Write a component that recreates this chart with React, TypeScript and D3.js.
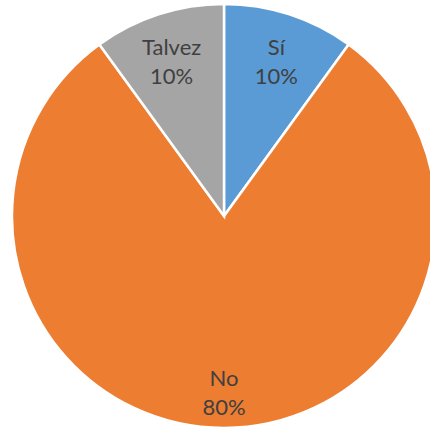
import React from "react";
import * as d3 from "d3";

const categories = ["Sí", "No", "Talvez"];
const values = [10, 80, 10];
const labels = ["10%", "80%", "10%"];
const colors = ["#5B9BD5", "#ED7D31", "#A5A5A5"];

export default function App() {
  const width = 430;
  const height = 429;
  const cx = 224;
  const cy = 216;
  const r = 212;
  const pie = d3.pie<number>().sort(null).value((d) => d);
  const arcs = pie(values);
  const arc = d3.arc<d3.PieArcDatum<number>>().innerRadius(0).outerRadius(r);
  const labelArc = d3
    .arc<d3.PieArcDatum<number>>()
    .innerRadius(r * 0.8)
    .outerRadius(r * 0.8);
  return (
    <svg
      width={width}
      height={height}
      style={{ position: "absolute", left: 0, top: 0, background: "#fff" }}
    >
      <g transform={`translate(${cx},${cy})`}>
        {arcs.map((a, i) => (
          <path
            key={i}
            d={arc(a) || ""}
            fill={colors[i]}
            stroke="#fff"
            strokeWidth={2.5}
            strokeLinejoin="miter"
          />
        ))}
        {arcs.map((a, i) => {
          const [x, y] = labelArc.centroid(a);
          return (
            <text
              key={"t" + i}
              x={x}
              y={y}
              textAnchor="middle"
              fill="#404040"
              fontFamily="Lato, 'Open Sans', sans-serif"
              fontSize={22}
            >
              <tspan x={x} y={y + 0.5}>
                {categories[i]}
              </tspan>
              <tspan x={x} y={y + 29.5}>
                {labels[i]}
              </tspan>
            </text>
          );
        })}
      </g>
    </svg>
  );
}
